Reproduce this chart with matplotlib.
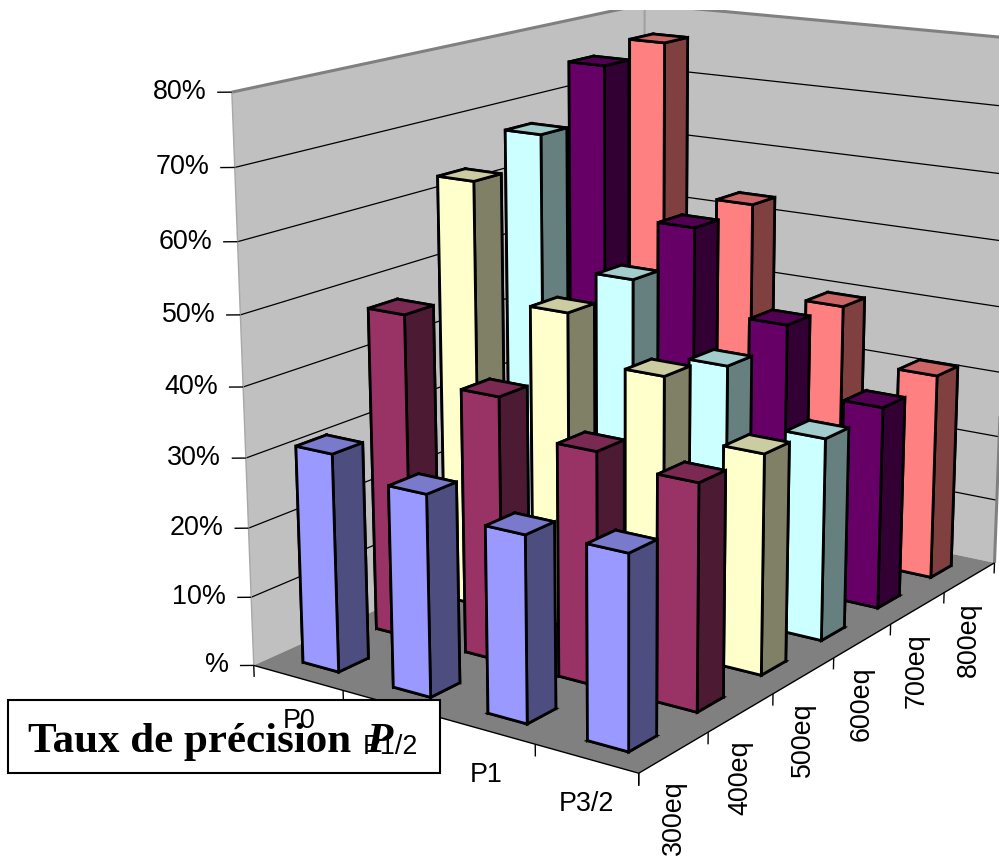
import numpy as np
import matplotlib
matplotlib.use('Agg')
import matplotlib.pyplot as plt
from matplotlib.patches import Rectangle
from mpl_toolkits.mplot3d.art3d import Poly3DCollection, Line3DCollection

categories = ['P0', 'P1/2', 'P1', 'P3/2']
series = ['300eq', '400eq', '500eq', '600eq', '700eq', '800eq']
zticks = [0, 10, 20, 30, 40, 50, 60, 70, 80]
zlabels = ['%', '10%', '20%', '30%', '40%', '50%', '60%', '70%', '80%']
p0 = [31.3, 47.2, 63.1, 67.2, 75.0, 76.3]
p1_2 = [28.6, 38.1, 46.4, 47.9, 52.5, 53.1]
p1 = [26.1, 33.2, 39.8, 37.6, 40.1, 39.5]
p3_2 = [26.8, 31.8, 31.6, 29.7, 30.3, 31.3]
values = [p0, p1_2, p1, p3_2]
face = ['#9999FF', '#993366', '#FFFFCC', '#CCFFFF', '#660066', '#FF8080']
side = ['#4D4D80', '#4D1A33', '#808066', '#668080', '#330033', '#804040']
top = ['#7A7ACC', '#7A2952', '#CCCCA3', '#A3CCCC', '#520052', '#CC6666']

W, H = 999, 861
# camera calibration: box landmarks (data coordinates) against their place in the picture
corr = [((0,0,0),(254,666))]*5 + [((1,0,0),(343,690)),((3,0,0),(534,745)),((4,0,0),(638,773)),
        ((4,1,0),(708,731)),((4,2,0),(773,695)),((4,3,0),(833.5,658)),((4,4,0),(890,624)),((4,5,0),(944,592)),
        ((4,6,0),(994,561)),((0,6,80),(642,4)),
        ((4,6,80),(1012,39)),((4,6,70),(1011.5,108)),((4,6,60),(1011,175)),((4,6,50),(1010.5,242))]
for z_, v_ in zip([10,20,30,40,50,60,70,80],[597,528,458,387,314,241,167,92]):
    corr.append(((0,0,z_),(254-(666-v_)*22/574, v_)))
S = np.diag([1/4, 1/6, 1/80, 1.0])
T = np.diag([1/1000, 1/1000, 1.0])
wts = np.ones(len(corr))
for it in range(8):
    rows = []
    for wt,((X,Y,Z),(u,v)) in zip(wts,corr):
        X,Y,Z = X/4,Y/6,Z/80
        u = u/1000; v = (H-v)/1000
        rows.append(wt*np.array([X,Y,Z,1,0,0,0,0,-u*X,-u*Y,-u*Z,-u]))
        rows.append(wt*np.array([0,0,0,0,X,Y,Z,1,-v*X,-v*Y,-v*Z,-v]))
    Pn = np.linalg.svd(np.array(rows,float))[2][-1].reshape(3,4)
    wts = np.array([1/abs(Pn[2] @ np.array([c[0][0]/4,c[0][1]/6,c[0][2]/80,1])) for c in corr])
P = np.linalg.inv(T) @ Pn @ S
if P[2] @ np.array([2,3,40,1]) < 0:
    P = -P
wc = P[2] @ np.array([2,3,40,1])

def project(x, y, z):
    h = P @ np.array([x, y, z, 1.0])
    return h[0]/h[2], h[1]/h[2]

fig = plt.figure(figsize=(W/100, H/100), dpi=100)
ax = fig.add_axes([0, 0, 1, 851/861], projection='3d', computed_zorder=False)
ax.set_axis_off()
ax.apply_aspect = lambda position=None: None

def get_proj():
    A = ax.transData.inverted().get_matrix()
    Q = A @ P
    return np.array([Q[0], Q[1], P[2] - np.array([0,0,0,wc]), Q[2]])
ax.get_proj = get_proj

def wall(v, fc, z):
    ax.add_collection3d(Poly3DCollection([v], facecolors=fc, edgecolors='none', zorder=z), autolim=False)
def lines(segs, color, lw, z):
    ax.add_collection3d(Line3DCollection(segs, colors=color, linewidths=lw, zorder=z), autolim=False)
nx, ny, zm = len(categories), len(series), zticks[-1]
wall([(0,0,0),(0,ny,0),(0,ny,zm),(0,0,zm)], '#C0C0C0', -3)
wall([(0,ny,0),(nx,ny,0),(nx,ny,zm),(0,ny,zm)], '#C0C0C0', -3)
wall([(0,0,0),(nx,0,0),(nx,ny,0),(0,ny,0)], '#808080', -2)
lines([[(0,0,z),(0,ny,z)] for z in zticks[1:-1]]+[[(0,ny,z),(nx,ny,z)] for z in zticks[1:-1]], 'k', 0.9, -1)
lines([[(0,0,zm),(0,ny,zm)],[(0,ny,zm),(nx,ny,zm)],[(nx,ny,0),(nx,ny,zm)]], '#808080', 2.2, -1)
lines([[(0,ny,0),(0,ny,zm)]], '#A0A0A0', 1.5, -1)
lines([[(0,0,0),(0,0,zm)]], '#A8A8A8', 1.0, -1)
lines([[(0,0,0),(nx,0,0)],[(nx,0,0),(nx,ny,0)]], 'k', 1, -0.5)
lines([[(0,0,z),(-0.096,-0.07,z)] for z in zticks]
      +[[(i,0,0),(i,0,-1.7)] for i in range(nx+1)]
      +[[(nx,j,0),(nx,j,-1.7)] for j in range(ny+1)], 'k', 1, -0.5)

k = 1
for i in range(nx):
    for j in range(ny-1,-1,-1):
        cols = [top[j], top[j], face[j], side[j], side[j], side[j]]
        ax.bar3d([i+0.3],[j+0.3],[0],[0.4],[0.4],[values[i][j]], color=cols, edgecolor='k',
                 linewidth=2.0, shade=False, zorder=k, joinstyle='miter')
        k += 1

fig.add_artist(Rectangle((8/W,1-773/H),432/W,73/H,transform=fig.transFigure,fc='white',ec='k',lw=1.5,zorder=2))
fig.text(28/W,1-752/H,'Taux de précision ',family='Liberation Serif',weight='bold',size=31,va='baseline',zorder=2.5)
fig.text(366/W,1-752/H,'P',family='Liberation Serif',weight='bold',style='italic',size=31,va='baseline',zorder=2.5)

lab = dict(family='Liberation Sans', size=19.4, color='k', zorder=3)
for z, s in zip(zticks, zlabels):
    u, v = project(0,0,z)
    fig.text((u-25)/W, v/H, s, ha='right', va='center', **lab)
for i, s in enumerate(categories):
    u, v = project(i+0.5, 0, -6.3)
    fig.text(u/W, v/H, s, ha='center', va='center', **lab)
for j, s in enumerate(series):
    u, v = project(nx, j+0.5, -3.9)
    fig.text(u/W, v/H, s, ha='center', va='top', rotation=90, **lab)
fig.savefig('out.png', dpi=100)
